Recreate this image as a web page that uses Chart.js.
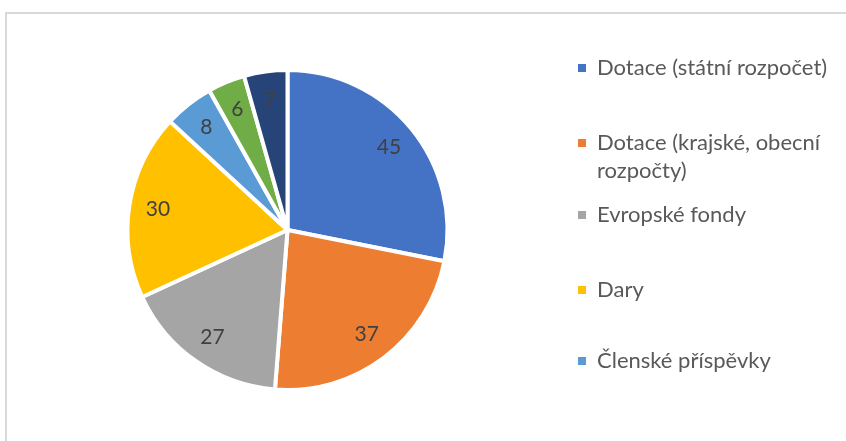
<!DOCTYPE html>
<html>
<head>
<meta charset="utf-8">
<script src="https://cdn.jsdelivr.net/npm/chart.js@4/dist/chart.umd.min.js"></script>
<style>
  html, body { margin: 0; padding: 0; background: #fff; }
  #wrap { position: relative; width: 846px; height: 441px; }
  #ramecek { position: absolute; left: 5px; top: 12px; right: -10px; bottom: -10px;
             border-left: 2px solid #d9d9d9; border-top: 2px solid #d9d9d9; }
  canvas { position: absolute; left: 0; top: 0; }
</style>
</head>
<body>
<div id="wrap">
  <div id="ramecek"></div>
  <canvas id="graf" width="846" height="441"></canvas>
</div>
<script>
// Zdroje financování
const kategorie = [
    'Dotace (státní rozpočet)',
    'Dotace (krajské, obecní rozpočty)',
    'Evropské fondy',
    'Dary',
    'Členské příspěvky',
    'Ostatní',
    'Jiné'
];
const hodnoty = [45, 37, 27, 30, 8, 6, 7];
const barvy = ['#4472c4', '#ed7d31', '#a5a5a5', '#ffc000', '#5b9bd5', '#70ad47', '#264478'];

// legenda vpravo (jako v Excelu, vejde se jen pět položek)
const legendaRadky = [
    ['Dotace (státní rozpočet)'],
    ['Dotace (krajské, obecní', 'rozpočty)'],
    ['Evropské fondy'],
    ['Dary'],
    ['Členské příspěvky']
];
const legendaY = [68, 143, 215, 290, 361];

const pismo = 'Lato, "Open Sans", sans-serif';

const popiskyPlugin = {
    id: 'popisky',
    afterDatasetsDraw(chart) {
        const ctx = chart.ctx;
        const meta = chart.getDatasetMeta(0);
        ctx.save();
        ctx.font = '21px ' + pismo;
        ctx.fillStyle = '#404040';
        ctx.textAlign = 'center';
        ctx.textBaseline = 'middle';
        meta.data.forEach((arc, i) => {
            const p = arc.getProps(['x', 'y', 'startAngle', 'endAngle', 'outerRadius'], true);
            const uhel = (p.startAngle + p.endAngle) / 2;
            const r = p.outerRadius * 0.82;
            ctx.fillText(String(hodnoty[i]), p.x + Math.cos(uhel) * r, p.y + Math.sin(uhel) * r);
        });
        ctx.restore();
    }
};

const legendaPlugin = {
    id: 'legenda',
    afterDraw(chart) {
        const ctx = chart.ctx;
        ctx.save();
        ctx.font = '22px ' + pismo;
        ctx.textBaseline = 'middle';
        legendaRadky.forEach((radky, i) => {
            const y = legendaY[i];
            ctx.fillStyle = barvy[i];
            ctx.fillRect(578, y - 4, 8, 8);
            ctx.fillStyle = '#595959';
            radky.forEach((t, j) => ctx.fillText(t, 597, y + j * 28));
        });
        ctx.restore();
    }
};

new Chart(document.getElementById('graf').getContext('2d'), {
    type: 'pie',
    data: {
        labels: kategorie,
        datasets: [{
            data: hodnoty,
            backgroundColor: barvy,
            borderColor: '#ffffff',
            borderWidth: 4
        }]
    },
    options: {
        responsive: false,
        animation: false,
        layout: { padding: { left: 125, right: 396, top: 68, bottom: 49 } },
        plugins: {
            legend: { display: false },
            tooltip: { enabled: false }
        }
    },
    plugins: [popiskyPlugin, legendaPlugin]
});
</script>
</body>
</html>
